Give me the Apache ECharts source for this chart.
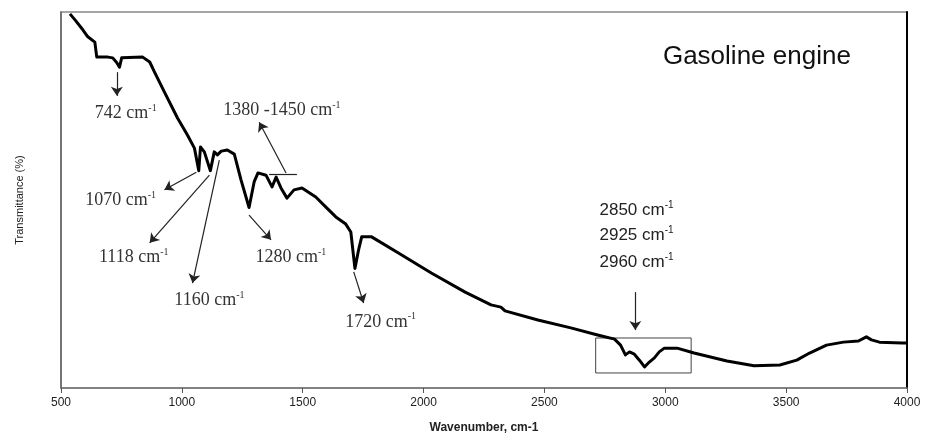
<!DOCTYPE html>
<html>
<head>
<meta charset="utf-8">
<script src="https://cdn.jsdelivr.net/npm/echarts@6/dist/echarts.min.js"></script>
<style>
  html, body { margin: 0; padding: 0; background: #fff; }
  #chart { width: 929px; height: 440px; }
</style>
</head>
<body>
<div id="chart"></div>
<script>
// FTIR spectrum (y has no scale, 0-100 arbitrary)
var wavenumber = [537, 558, 591, 611, 640, 648, 694, 714, 731, 742, 751, 838, 867, 887, 928, 982, 1023, 1052,
  1070, 1077, 1093, 1118, 1134, 1147, 1163, 1188, 1217, 1245, 1278, 1299, 1315, 1348, 1373, 1390, 1410, 1435,
  1464, 1497, 1554, 1596, 1637, 1678, 1699, 1716, 1731, 1744, 1785, 1896, 2032, 2172, 2279, 2320, 2337, 2473,
  2609, 2720, 2790, 2815, 2835, 2852, 2872, 2893, 2914, 2934, 2955, 2975, 2996, 3049, 3119, 3255, 3367, 3474,
  3544, 3597, 3667, 3737, 3799, 3832, 3853, 3886, 3980, 4000]
var transmittance = [99.5, 97.9, 95.2, 93.4, 92.0, 88.0, 88.0, 87.8, 86.5, 85.3, 87.8, 88.0, 86.7, 84.0, 78.7,
  71.8, 67.3, 63.8, 57.8, 64.1, 62.8, 57.8, 62.8, 62.0, 63.0, 63.3, 62.2, 55.3, 48.0, 54.8, 57.2, 56.6, 53.5,
  56.1, 53.2, 50.5, 52.7, 53.2, 50.8, 48.1, 45.5, 43.6, 41.5, 31.8, 36.7, 40.2, 40.2, 35.9, 30.6, 25.5, 22.1,
  21.5, 20.5, 18.1, 16.0, 14.1, 13.0, 11.4, 8.8, 9.6, 9.0, 7.4, 5.6, 6.9, 8.0, 9.6, 10.6, 10.6, 9.3, 7.2, 5.9,
  6.1, 7.4, 9.3, 11.4, 12.2, 12.5, 13.6, 12.8, 12.2, 12.0, 12.0]
var xTicks = [500, 1000, 1500, 2000, 2500, 3000, 3500, 4000]

// annotation texts and where they sit (data units)
var peakLabels = ['742', '1380 -1450', '1070', '1118', '1160', '1280', '1720']
var peakLabelAt = [[768, 73.1], [1414, 73.9], [747, 50.0], [801, 34.8], [1114, 23.4], [1451, 34.8], [1822, 17.6]]
var chLabels = ['2850', '2925', '2960']
var chLabelAt = [[2881, 47.3], [2881, 40.7], [2881, 33.5]]
// arrows: from -> to
var arrows = [
  [[731, 84.0], [731, 77.7]],
  [[1431, 57.2], [1320, 70.7]],
  [[1060, 57.4], [928, 52.7]],
  [[1114, 56.6], [867, 38.6]],
  [[1155, 60.6], [1044, 27.9]],
  [[1278, 46.0], [1369, 39.4]],
  [[1711, 30.9], [1752, 22.6]],
  [[2876, 25.5], [2876, 15.4]]
]
var bracket = [[1361, 56.9], [1476, 56.9]]
var chBox = [[2712, 13.3], [3107, 4.0]]

var serif = 'Liberation Serif'
var sans = 'Liberation Sans'

var spectrum = wavenumber.map(function (w, i) { return [w, transmittance[i]] })

var lineData = arrows.map(function (a) {
  return [{ coord: a[0], symbol: 'none' }, { coord: a[1], symbol: 'arrow' }]
})
lineData.push([{ coord: bracket[0], symbol: 'none' }, { coord: bracket[1], symbol: 'none' }])

var pointData = []
peakLabels.forEach(function (t, i) {
  pointData.push({
    coord: peakLabelAt[i],
    label: { formatter: '{n|' + t + ' cm}{s|-1}' }
  })
})
chLabels.forEach(function (t, i) {
  pointData.push({
    coord: chLabelAt[i],
    label: { formatter: '{m|' + t + ' cm}{t|-1}' }
  })
})
pointData.push({
  coord: [3379, 88.0],
  label: { formatter: '{g|Gasoline engine}' }
})

var chart = echarts.init(document.getElementById('chart'))
chart.setOption({
  animation: false,
  backgroundColor: '#fff',
  grid: {
    left: 61,
    right: 22,
    top: 12,
    bottom: 52,
    show: true,
    borderColor: '#888',
    borderWidth: 1.5
  },
  xAxis: {
    type: 'value',
    min: xTicks[0],
    max: xTicks[xTicks.length - 1],
    interval: 500,
    name: 'Wavenumber, cm-1',
    nameLocation: 'middle',
    nameGap: 34,
    nameTextStyle: { fontFamily: sans, fontWeight: 'bold', fontSize: 12, color: '#222' },
    axisLine: { lineStyle: { color: '#777', width: 1.5 } },
    axisTick: { length: 5, lineStyle: { color: '#555' } },
    axisLabel: {
      fontFamily: sans,
      fontSize: 12,
      color: '#222',
      margin: 9,
      formatter: function (v) { return String(v) }
    },
    splitLine: { show: false }
  },
  yAxis: [
    {
      type: 'value',
      min: 0,
      max: 100,
      name: 'Transmittance (%)',
      nameLocation: 'middle',
      nameGap: 36,
      nameTextStyle: { fontFamily: sans, fontSize: 11, color: '#222' },
      axisLine: { show: true, lineStyle: { color: '#666', width: 1.5 } },
      axisTick: { show: false },
      axisLabel: { show: false },
      splitLine: { show: false }
    },
    {
      type: 'value',
      min: 0,
      max: 100,
      position: 'right',
      axisLine: { show: true, lineStyle: { color: '#000', width: 2 } },
      axisTick: { show: false },
      axisLabel: { show: false },
      splitLine: { show: false }
    }
  ],
  series: [
    {
      type: 'line',
      data: spectrum,
      showSymbol: false,
      lineStyle: { color: '#000', width: 3, join: 'round' },
      z: 3,
      markLine: {
        silent: true,
        symbolSize: 9,
        lineStyle: { color: '#222', width: 1.2, type: 'solid' },
        label: { show: false },
        data: lineData
      },
      markPoint: {
        silent: true,
        symbol: 'circle',
        symbolSize: 0,
        label: {
          show: true,
          position: 'inside',
          color: '#222',
          rich: {
            n: { fontFamily: serif, fontSize: 18, color: '#333' },
            s: { fontFamily: serif, fontSize: 10, color: '#333', verticalAlign: 'top', padding: [0, 0, 10, 0] },
            m: { fontFamily: sans, fontSize: 17, color: '#222' },
            t: { fontFamily: sans, fontSize: 10, color: '#222', verticalAlign: 'top', padding: [0, 0, 9, 0] },
            g: { fontFamily: sans, fontSize: 26, color: '#111' }
          }
        },
        data: pointData
      },
      markArea: {
        silent: true,
        itemStyle: { color: 'rgba(0,0,0,0)', borderColor: '#444', borderWidth: 1 },
        data: [[{ coord: chBox[0] }, { coord: chBox[1] }]]
      }
    }
  ]
})
</script>
</body>
</html>
